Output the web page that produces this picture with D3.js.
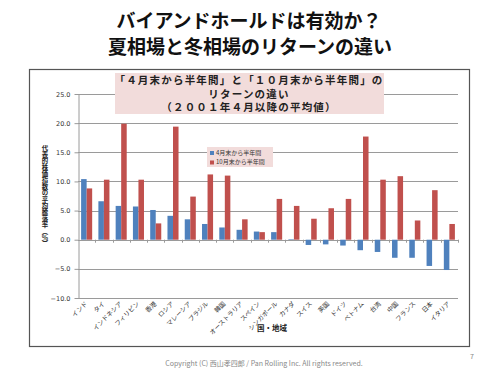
<!DOCTYPE html>
<html>
<head>
<meta charset="utf-8">
<script src="https://cdn.jsdelivr.net/npm/d3@7"></script>
<style>
  body { margin: 0; background: #fff; }
  text { font-family: "Noto Sans CJK JP", "Noto Sans", sans-serif; }
</style>
</head>
<body>
<div id="chart"></div>
<script>
// 国・地域
const countries = ["インド", "タイ", "インドネシア", "フィリピン", "香港", "ロシア", "マレーシア", "ブラジル", "韓国", "オーストラリア", "スペイン",
    "シンガポール", "カナダ", "スイス", "英国", "ドイツ", "ベトナム", "台湾", "中国", "フランス", "日本", "イタリア"];
// 4月末から半年間
const aprilReturns = [10.4, 6.6, 5.8, 5.7, 5.1, 4.1, 3.5, 2.7, 2.1, 1.7, 1.4,
    1.3, 0.1, -0.9, -0.8, -1.0, -1.8, -2.1, -3.1, -3.1, -4.5, -5.2];
// 10月末から半年間
const octoberReturns = [8.8, 10.3, 19.9, 10.3, 2.8, 19.4, 7.4, 11.2, 11.0, 3.5, 1.3,
    7.0, 5.8, 3.6, 5.4, 7.0, 17.7, 10.3, 10.9, 3.3, 8.5, 2.7];
const seriesNames = ["4月末から半年間", "10月末から半年間"];
const seriesColors = ["#4F81BD", "#C0504D"];
const yTicks = [-10, -5, 0, 5, 10, 15, 20, 25];

const width = 500;
const height = 375;
const plot = { left: 78, right: 458, top: 94, bottom: 298 };

const svg = d3.select("#chart")
    .append("svg")
    .attr("width", width)
    .attr("height", height);

// タイトル
svg.append("text")
    .attr("x", 249).attr("y", 28)
    .attr("text-anchor", "middle")
    .attr("font-size", 19).attr("font-weight", "bold").attr("fill", "#111")
    .text("バイアンドホールドは有効か？");
svg.append("text")
    .attr("x", 250).attr("y", 54)
    .attr("text-anchor", "middle")
    .attr("font-size", 19).attr("font-weight", "bold").attr("fill", "#111")
    .text("夏相場と冬相場のリターンの違い");

// グラフの枠
svg.append("rect")
    .attr("x", 29.5).attr("y", 69.5)
    .attr("width", 440).attr("height", 277)
    .attr("fill", "none")
    .attr("stroke", "#555")
    .attr("stroke-width", 1.2);

const xScale = d3.scaleBand()
    .domain(countries)
    .range([plot.left, plot.right])
    .padding(0);

const xSub = d3.scaleBand()
    .domain([0, 1])
    .range([xScale.bandwidth() * 0.18, xScale.bandwidth() * 0.82])
    .padding(0);

const yScale = d3.scaleLinear()
    .domain([-10, 25])
    .range([plot.bottom, plot.top]);

// 水平グリッド線
svg.append("g")
    .selectAll("line")
    .data(yTicks)
    .enter()
    .append("line")
    .attr("x1", plot.left)
    .attr("x2", plot.right)
    .attr("y1", d => Math.round(yScale(d)) + 0.5)
    .attr("y2", d => Math.round(yScale(d)) + 0.5)
    .attr("stroke", "#9a9a9a")
    .attr("stroke-width", 1);

// y 軸
const yAxis = svg.append("g")
    .attr("transform", `translate(${plot.left + 0.5}, 0)`)
    .call(d3.axisLeft(yScale).tickValues(yTicks).tickFormat(d3.format(".1f")).tickSizeInner(4).tickSizeOuter(0).tickPadding(4));
yAxis.selectAll("path, line").attr("stroke", "#9a9a9a");
yAxis.selectAll("text")
    .attr("font-size", 6.5)
    .attr("fill", "#333")
    .style("font-family", "'DejaVu Sans', sans-serif");

// ゼロ線上の目盛り
svg.append("g")
    .selectAll("line")
    .data(countries)
    .enter()
    .append("line")
    .attr("x1", d => Math.round(xScale(d) + xScale.bandwidth()) + 0.5)
    .attr("x2", d => Math.round(xScale(d) + xScale.bandwidth()) + 0.5)
    .attr("y1", yScale(0))
    .attr("y2", yScale(0) + 3)
    .attr("stroke", "#9a9a9a");

// 棒グラフ
const rows = countries.map((c, i) => ({ name: c, values: [aprilReturns[i], octoberReturns[i]] }));
const groups = svg.append("g")
    .selectAll("g")
    .data(rows)
    .enter()
    .append("g")
    .attr("transform", d => `translate(${xScale(d.name)}, 0)`);

groups.selectAll("rect")
    .data(d => d.values.map((v, k) => ({ k, v })))
    .enter()
    .append("rect")
    .attr("x", d => xSub(d.k))
    .attr("y", d => yScale(Math.max(0, d.v)))
    .attr("width", xSub.bandwidth())
    .attr("height", d => Math.abs(yScale(d.v) - yScale(0)))
    .attr("fill", d => seriesColors[d.k]);

// 国名ラベル (斜め)
svg.append("g")
    .selectAll("text")
    .data(countries)
    .enter()
    .append("text")
    .attr("transform", d => `translate(${xScale(d) + xScale.bandwidth() / 2}, ${plot.bottom + 5}) rotate(-45)`)
    .attr("text-anchor", "end")
    .attr("dominant-baseline", "middle")
    .attr("font-size", 6.3)
    .attr("fill", "#333")
    .text(d => d);

// x 軸タイトル
svg.append("text")
    .attr("x", 272).attr("y", 331)
    .attr("text-anchor", "middle")
    .attr("font-size", 7.5).attr("font-weight", "bold").attr("fill", "#222")
    .text("国・地域");

// y 軸タイトル (縦書き)
svg.append("text")
    .attr("x", 45).attr("y", 196)
    .attr("text-anchor", "middle")
    .attr("writing-mode", "tb")
    .style("writing-mode", "vertical-rl")
    .attr("font-size", 6.4).attr("font-weight", "bold").attr("fill", "#222")
    .text("代表的株価指数の平均騰落率（％）");

// 注記ボックス
svg.append("rect")
    .attr("x", 115).attr("y", 73)
    .attr("width", 269).attr("height", 41)
    .attr("fill", "#F2DCDB");
const noteLines = ["「４月末から半年間」と「１０月末から半年間」の", "リターンの違い", "（２００１年４月以降の平均値）"];
svg.append("text")
    .attr("text-anchor", "middle")
    .attr("font-size", 10.5).attr("font-weight", "bold").attr("fill", "#222")
    .attr("letter-spacing", 1.2)
    .selectAll("tspan")
    .data(noteLines)
    .enter()
    .append("tspan")
    .attr("x", 249)
    .attr("y", (d, i) => 84 + i * 13.5)
    .text(d => d);

// 凡例
svg.append("rect")
    .attr("x", 207).attr("y", 147)
    .attr("width", 66).attr("height", 20)
    .attr("fill", "#F2DCDB");
const legend = svg.append("g")
    .selectAll("g")
    .data(seriesNames)
    .enter()
    .append("g")
    .attr("transform", (d, i) => `translate(210, ${153 + i * 9.5})`);
legend.append("rect")
    .attr("x", 0).attr("y", -2)
    .attr("width", 4).attr("height", 4)
    .attr("fill", (d, i) => seriesColors[i]);
legend.append("text")
    .attr("x", 6).attr("y", 0)
    .attr("dominant-baseline", "middle")
    .attr("font-size", 6).attr("fill", "#333")
    .text(d => d);

// フッター
svg.append("text")
    .attr("x", 264).attr("y", 366)
    .attr("text-anchor", "middle")
    .attr("font-size", 7).attr("fill", "#888")
    .text("Copyright (C) 西山孝四郎 / Pan Rolling Inc. All rights reserved.");
svg.append("text")
    .attr("x", 472).attr("y", 359)
    .attr("text-anchor", "middle")
    .attr("font-size", 7).attr("fill", "#888")
    .text("7");
</script>
</body>
</html>
